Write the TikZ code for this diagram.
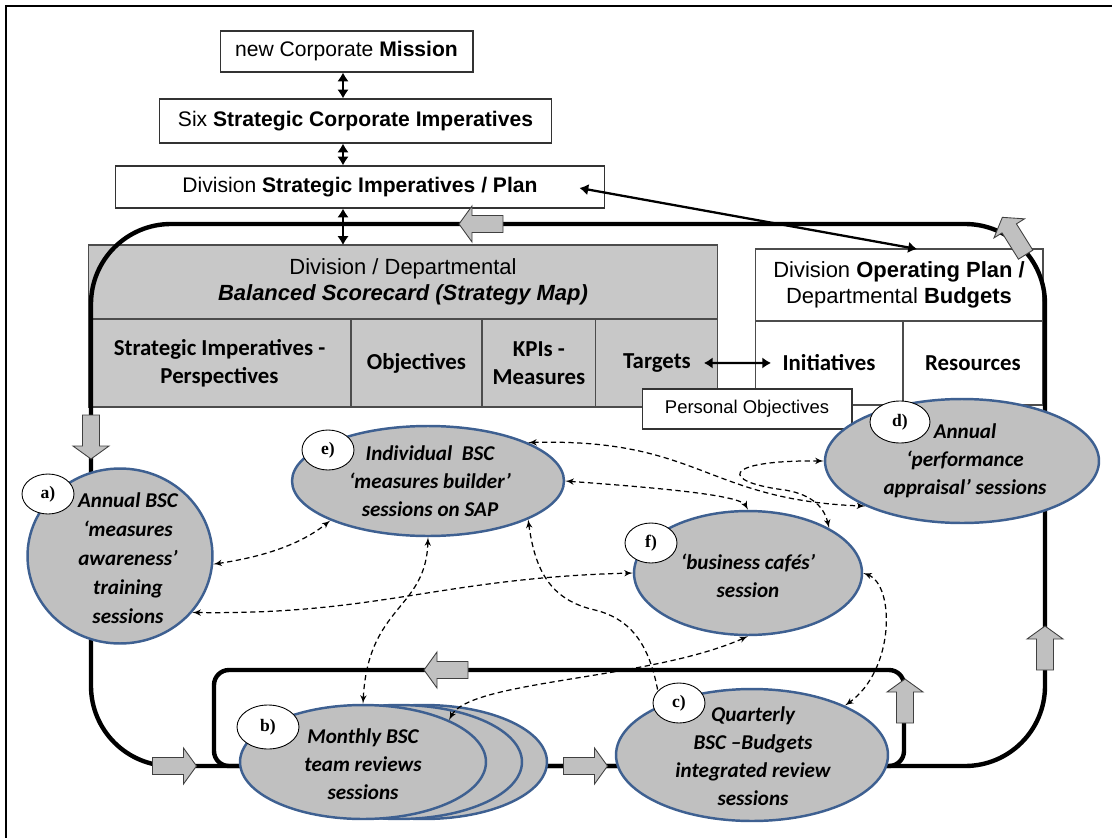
\documentclass[tikz,border=0pt]{standalone}
\usepackage{fontspec}
\setmainfont{Liberation Sans}
\newfontfamily\calibri{Carlito}
\newfontfamily\timesfont{Liberation Serif}
\usepackage{tikz}
\usetikzlibrary{arrows}
\usetikzlibrary{arrows.meta}
\usetikzlibrary{shapes}
\usetikzlibrary{positioning}
\usetikzlibrary{calc}
\definecolor{ovalblue}{RGB}{62,96,145}
\definecolor{cardgray}{RGB}{200,200,200}
\definecolor{ovalgray}{RGB}{192,192,192}
\tikzset{
    topbox/.style={draw=black!80, line width=0.6pt, fill=white, inner sep=0pt, font=\fontsize{12}{14}\selectfont},
    cardbox/.style={draw=black!70, line width=0.6pt, fill=cardgray, inner sep=0pt, outer sep=0pt, align=center},
    planbox/.style={draw=black!70, line width=0.6pt, fill=white, inner sep=0pt, outer sep=0pt, align=center},
    headtext/.style={font=\fontsize{12.5}{15}\selectfont},
    celltext/.style={font=\calibri\bfseries\fontsize{13}{16}\selectfont},
    bigloop/.style={draw=black, line width=2.5pt},
    blockarr/.style={draw=black!75, line width=0.5pt, fill=ovalgray},
    session/.style={ellipse, draw=ovalblue, line width=1.4pt, fill=ovalgray, inner sep=0pt},
    sessiontext/.style={align=center, font=\calibri\bfseries\itshape\fontsize{12}{16}\selectfont},
    tag/.style={ellipse, draw=black, line width=0.5pt, fill=white, inner sep=0pt,
        minimum width=1.04cm, minimum height=0.8cm, font=\timesfont\bfseries\fontsize{10}{12}\selectfont},
    dbl/.style={{Latex[length=5pt,width=6.5pt]}-{Latex[length=5pt,width=6.5pt]}, line width=1.3pt},
    link/.style={latex'-latex', line width=0.7pt, dash pattern=on 3pt off 2pt},
    pics/blockarrow/.style={code={
        \draw[blockarr] (-22,-8.5) -- (9,-8.5) -- (9,-18) -- (22,0) -- (9,18) -- (9,8.5) -- (-22,8.5) -- cycle;}},
}
\begin{document}
\begin{tikzpicture}[x=0.02cm, y=-0.02cm]
	\useasboundingbox (0,0) rectangle (1112,838);
	\clip (0,0) rectangle (1112,838);
	\draw[line width=1.1pt] (6,6) rectangle (1140,860);
	% mission and imperatives
	\node[topbox, minimum width=5.06cm, minimum height=0.82cm] (m1) at (346.5,51.5) {new Corporate \textbf{Mission}};
	\node[topbox, minimum width=7.86cm, minimum height=0.88cm] (m2) at (355.5,121) {Six \textbf{Strategic Corporate Imperatives}};
	\node[topbox, minimum width=9.8cm, minimum height=0.84cm] (m3) at (360,187) {Division \textbf{Strategic Imperatives / Plan}};
	% scorecard
	\node[cardbox, headtext, minimum width=12.6cm, minimum height=1.48cm] (bsc) at (403,282)
		{Division / Departmental\\\textbf{\textit{Balanced Scorecard (Strategy Map)}}};
	\node[cardbox, celltext, minimum width=5.26cm, minimum height=1.76cm, anchor=north west] (c1) at (bsc.south west)
		{Strategic Imperatives -\\Perspectives};
	\node[cardbox, celltext, minimum width=2.62cm, minimum height=1.76cm, right=0pt of c1] (c2) {Objectives};
	\node[cardbox, celltext, minimum width=2.28cm, minimum height=1.76cm, right=0pt of c2] (c3) {KPIs -\\Measures};
	\node[cardbox, celltext, minimum width=2.44cm, minimum height=1.76cm, right=0pt of c3] (c4) {Targets};
	% operating plan
	\node[planbox, headtext, minimum width=5.76cm, minimum height=1.44cm] (op) at (899,285)
		{Division \textbf{Operating Plan /}\\Departmental \textbf{Budgets}};
	\node[planbox, celltext, minimum width=2.96cm, minimum height=1.68cm, anchor=north west] (ini) at (op.south west) {Initiatives};
	\node[planbox, celltext, minimum width=2.8cm, minimum height=1.68cm, right=0pt of ini] (res) {Resources};
	\node[topbox, font=\fontsize{10.5}{12}\selectfont, minimum width=4.2cm, minimum height=0.8cm] (po) at (747,409) {Personal Objectives};
	\coordinate (ax) at (343,0);
	\draw[dbl] (m1.south -| ax) -- (m2.north -| ax);
	\draw[dbl] (m2.south -| ax) -- (m3.north -| ax);
	\draw[dbl] (m3.south -| ax) -- (bsc.north -| ax);
	\draw[dbl] ($(c4.east)+(-14,0)$) -- ($(ini.west)+(16,0)$);
	% loops
	\draw[bigloop, rounded corners=1.6cm] (91,224) rectangle (1045,766);
	\draw[bigloop, rounded corners=0.3cm] (214,670) rectangle (904,766);
	\pic[rotate=180] at (481,224) {blockarrow};
	\pic[rotate=122] at (1014,236) {blockarrow};
	\pic[rotate=-90] at (91,437) {blockarrow};
	\pic at (174.5,766) {blockarrow};
	\pic at (585.5,766) {blockarrow};
	\pic[rotate=180] at (446,670) {blockarrow};
	\pic[rotate=90] at (905,701) {blockarrow};
	\pic[rotate=90] at (1045,648) {blockarrow};
	% sessions
	\node[session, minimum width=4.92cm, minimum height=2.28cm] (b3) at (424,762) {};
	\node[session, minimum width=4.92cm, minimum height=2.28cm] (b2) at (399,762) {};
	\node[session, minimum width=4.92cm, minimum height=2.28cm] (b1) at (363,762) {};
	\node[session, minimum width=3.7cm, minimum height=3.5cm] (a) at (120,556) {};
	\node[session, minimum width=5.44cm, minimum height=2.2cm] (e) at (428,481) {};
	\node[session, minimum width=5.48cm, minimum height=2.48cm] (d) at (962,461) {};
	\node[session, minimum width=4.56cm, minimum height=2.48cm] (f) at (748,573) {};
	\node[session, minimum width=5.44cm, minimum height=2.64cm] (c) at (752,755) {};
	\node[tag] (la) at (48,494) {a)};
	\node[tag] (le) at (328,450) {e)};
	\node[tag, minimum width=1.2cm, minimum height=0.84cm] (ld) at (900,422) {d)};
	\node[tag] (lf) at (651,543) {f)};
	\node[tag, minimum width=1.24cm, minimum height=0.88cm] (lb) at (268,727) {b)};
	\node[tag] (lc) at (679,703) {c)};
	\node[sessiontext, font=\calibri\bfseries\itshape\fontsize{12}{16.5}\selectfont] (ta) at (128,558)
		{Annual BSC\\‘measures\\awareness’\\training\\sessions};
	\node[sessiontext] (te) at (430,481) {Individual \ BSC\\‘measures builder’\\sessions on SAP};
	\node[sessiontext] (td) at (965,461) {Annual\\‘performance\\appraisal’ sessions};
	\node[sessiontext] (tf) at (748,576) {‘business cafés’\\session};
	\node[sessiontext] (tb) at (363,764) {Monthly BSC\\team reviews\\sessions};
	\node[sessiontext] (tc) at (753,756) {Quarterly\\BSC –Budgets\\integrated review\\sessions};
	% links
	\draw[link] (a.-5) .. controls (262,557) and (300,545) .. (e.202);
	\draw[link] (a.-38) .. controls (380,615) and (440,578) .. (f.west);
	\draw[link] (e.south) .. controls (426,610) and (368,605) .. (b1.north);
	\draw[link] (e.east) .. controls (660,488) and (740,495) .. (f.north);
	\draw[link] (e.21) .. controls (700,438) and (705,500) .. (d.205);
	\draw[link] (d.west) .. controls (720,460) and (720,482) .. (785,490) .. controls (815,495) and (825,510) .. (f.29);
	\draw[link] (f.east) .. controls (895,585) and (895,670) .. (c.28);
	\draw[link, latex'-] (e.-21) .. controls (535,570) and (550,600) .. (595,610) .. controls (635,620) and (650,650) .. (lc.150);
	\draw[link] (b1.26) .. controls (470,680) and (650,680) .. (f.south);
	\draw[dbl] ($(m3.east)+(-26,1)$) -- ($(op.north)+(18,0)$);
\end{tikzpicture}
\end{document}
